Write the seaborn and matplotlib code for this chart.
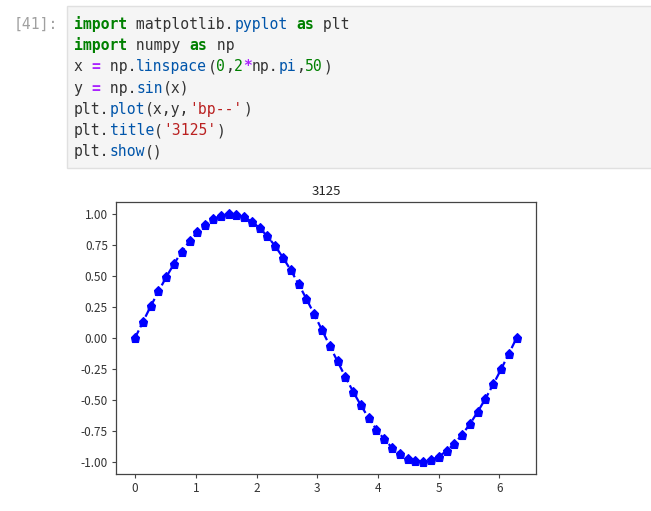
import matplotlib
matplotlib.use('Agg')
import matplotlib.pyplot as plt
from matplotlib.patches import Rectangle
import seaborn as sns

# values of the plotted curve (x from 0 to 2*pi, 50 points)
x_vals = [0.000, 0.128, 0.256, 0.385, 0.513, 0.641, 0.769, 0.898, 1.026, 1.154,
          1.282, 1.411, 1.539, 1.667, 1.795, 1.923, 2.052, 2.180, 2.308, 2.436,
          2.565, 2.693, 2.821, 2.949, 3.077, 3.206, 3.334, 3.462, 3.590, 3.719,
          3.847, 3.975, 4.103, 4.232, 4.360, 4.488, 4.616, 4.744, 4.873, 5.001,
          5.129, 5.257, 5.386, 5.514, 5.642, 5.770, 5.899, 6.027, 6.155, 6.283]
y_vals = [0.000, 0.128, 0.254, 0.375, 0.491, 0.598, 0.696, 0.782, 0.855, 0.914,
          0.959, 0.987, 1.000, 0.995, 0.975, 0.939, 0.887, 0.820, 0.741, 0.648,
          0.546, 0.434, 0.315, 0.191, 0.064, -0.064, -0.191, -0.315, -0.434, -0.546,
          -0.648, -0.741, -0.820, -0.887, -0.939, -0.975, -0.995, -1.000, -0.987, -0.959,
          -0.914, -0.855, -0.782, -0.696, -0.598, -0.491, -0.375, -0.254, -0.128, -0.000]
x_ticks = [0, 1, 2, 3, 4, 5, 6]
y_ticks = [-1.00, -0.75, -0.50, -0.25, 0.00, 0.25, 0.50, 0.75, 1.00]
chart_title = '3125'
prompt_label = '[41]:'

# notebook cell source, split into coloured tokens
KW, DEF, ATTR, NUM, OP, STR = '#008000', '#333333', '#0055aa', '#008000', '#aa22ff', '#ba2121'
code_lines = [
    [('import', KW, True), (' matplotlib.', DEF, False), ('pyplot', ATTR, False),
     (' ', DEF, False), ('as', KW, True), (' plt', DEF, False)],
    [('import', KW, True), (' numpy ', DEF, False), ('as', KW, True), (' np', DEF, False)],
    [('x ', DEF, False), ('=', OP, True), (' np.', DEF, False), ('linspace', ATTR, False),
     ('(', DEF, False), ('0', NUM, False), (',', DEF, False), ('2', NUM, False),
     ('*', OP, True), ('np.', DEF, False), ('pi', ATTR, False), (',', DEF, False),
     ('50', NUM, False), (')', DEF, False)],
    [('y ', DEF, False), ('=', OP, True), (' np.', DEF, False), ('sin', ATTR, False),
     ('(x)', DEF, False)],
    [('plt.', DEF, False), ('plot', ATTR, False), ('(x,y,', DEF, False),
     ("'bp--'", STR, False), (')', DEF, False)],
    [('plt.', DEF, False), ('title', ATTR, False), ('(', DEF, False),
     ("'3125'", STR, False), (')', DEF, False)],
    [('plt.', DEF, False), ('show', ATTR, False), ('()', DEF, False)],
]

sns.set_style('ticks')
plt.rcParams['font.family'] = ['Noto Sans CJK SC', 'DejaVu Sans']
plt.rcParams['axes.unicode_minus'] = False

W, H = 651, 511
fig = plt.figure(figsize=(W / 100, H / 100), dpi=100)
fig.patch.set_facecolor('white')


def fx(px):
    return px / W


def fy(py):
    return 1 - py / H


# code cell box
fig.patches.append(Rectangle((fx(67), fy(168)), fx(W) - fx(67) + 0.01, fy(6) - fy(168),
                             transform=fig.transFigure, facecolor='#f5f5f5',
                             edgecolor='#e0e0e0', linewidth=1.0, zorder=0))

mono = dict(family='DejaVu Sans Mono', fontsize=10.6, va='baseline')
fig.text(fx(58), fy(29), prompt_label, ha='right', color='#a0a0a0', **mono)

char_w = 8.9
line_h = 21.2
for row, tokens in enumerate(code_lines):
    col = 0
    base = 29 + row * line_h
    for text, color, bold in tokens:
        fig.text(fx(74 + col * char_w), fy(base), text, ha='left', color=color,
                 fontweight='bold' if bold else 'normal', **mono)
        col += len(text)

# plot area
ax = fig.add_axes([fx(116), fy(474), fx(535.7) - fx(116), fy(201.7) - fy(474)])
sns.lineplot(x=x_vals, y=y_vals, ax=ax, color='blue', linestyle='--', linewidth=1.6,
             marker='p', markersize=6.8, markeredgecolor='blue', markeredgewidth=0.8)
ax.set_xticks(x_ticks)
ax.set_yticks(y_ticks)
ax.set_yticklabels([f'{v:.2f}' for v in y_ticks])
ax.set_title(chart_title, fontsize=9.5, color='#222222', pad=5)
ax.tick_params(labelsize=8.5, length=2.8, width=0.8, colors='#444444', labelcolor='#333333',
               pad=3)
for s in ax.spines.values():
    s.set_color('#444444')
    s.set_linewidth(0.9)
ax.set_facecolor('white')

fig.savefig('out.png', dpi=100)
